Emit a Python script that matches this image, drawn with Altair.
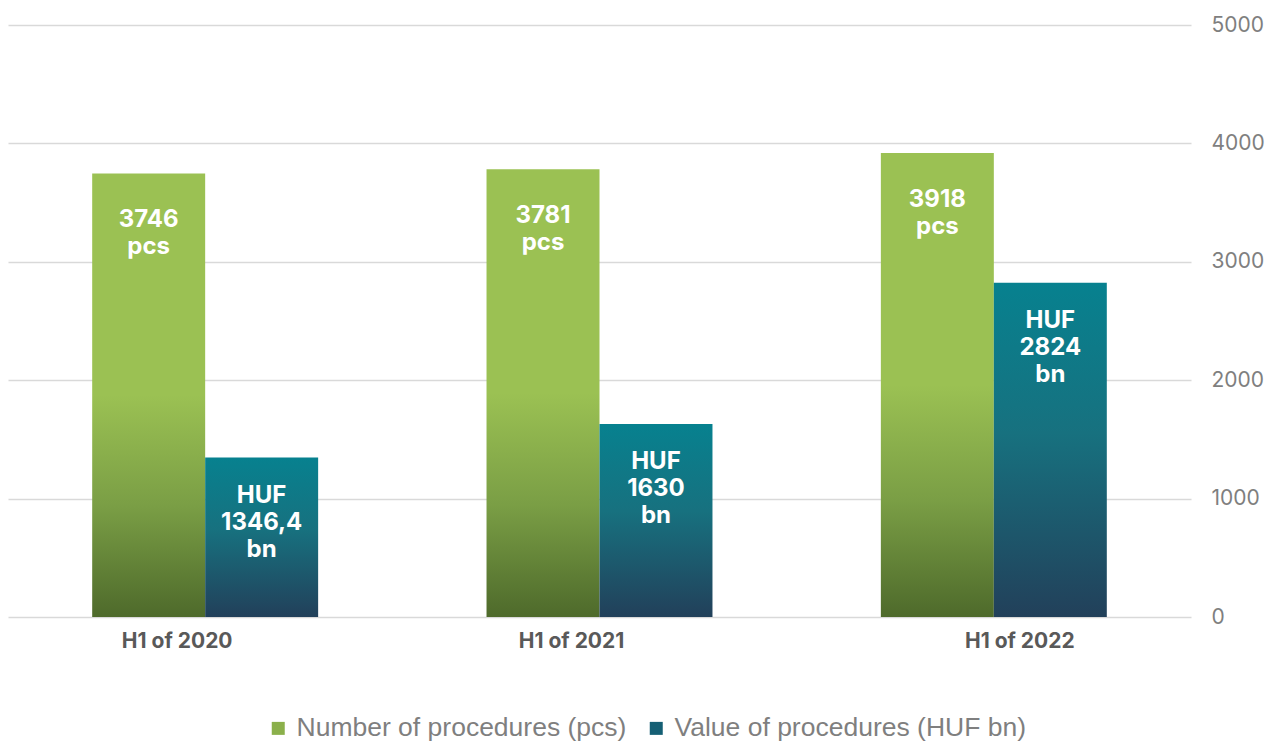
import altair as alt
import pandas as pd

periods = ["H1 of 2020", "H1 of 2021", "H1 of 2022"]
series = ["Number of procedures (pcs)", "Value of procedures (HUF bn)"]
counts = [3746, 3781, 3918]
values = [1346.4, 1630, 2824]
count_labels = ["3746\npcs", "3781\npcs", "3918\npcs"]
value_labels = ["HUF\n1346,4\nbn", "HUF\n1630\nbn", "HUF\n2824\nbn"]
y_ticks = [0, 1000, 2000, 3000, 4000, 5000]

rows = []
for p, c, cl in zip(periods, counts, count_labels):
    rows.append({"period": p, "series": series[0], "v": c, "label": cl})
for p, v, vl in zip(periods, values, value_labels):
    rows.append({"period": p, "series": series[1], "v": v, "label": vl})
df = pd.DataFrame(rows)

green = alt.Gradient(gradient="linear", x1=0, y1=0, x2=0, y2=1, stops=[
    alt.GradientStop(color="#9BC153", offset=0),
    alt.GradientStop(color="#9BC153", offset=0.5),
    alt.GradientStop(color="#7A9E45", offset=0.75),
    alt.GradientStop(color="#4E6A2B", offset=1),
])
teal = alt.Gradient(gradient="linear", x1=0, y1=0, x2=0, y2=1, stops=[
    alt.GradientStop(color="#07818F", offset=0),
    alt.GradientStop(color="#17717F", offset=0.45),
    alt.GradientStop(color="#22405A", offset=1),
])

x_enc = alt.X("period:N", sort=periods, title=None,
              scale=alt.Scale(paddingInner=0.427, paddingOuter=0.2135),
              axis=alt.Axis(domain=False, ticks=False, grid=False, labelAngle=0,
                            labelFont="Inter", labelFontSize=21, labelFontWeight="bold",
                            labelColor="#595959", labelPadding=13,
                            labelOffset=alt.ExprRef("datum.value == 'H1 of 2022' ? 26 : -28")))
y_enc = alt.Y("v:Q", title=None,
              scale=alt.Scale(domain=[0, 5000]),
              axis=alt.Axis(orient="right", values=y_ticks, format="d", domain=False, ticks=False,
                            grid=True, gridColor="#D9D9D9", gridWidth=1.5,
                            labelFont="Inter", labelFontSize=21, labelColor="#7F7F7F",
                            labelAlign="left", labelPadding=20))
xo = alt.XOffset("series:N", scale=alt.Scale(domain=series, paddingInner=0, paddingOuter=0))

base = alt.Chart(df)

bars_green = base.transform_filter(alt.datum.series == series[0]).mark_bar(fill=green).encode(
    x=x_enc, y=y_enc, xOffset=xo)
bars_teal = base.transform_filter(alt.datum.series == series[1]).mark_bar(fill=teal).encode(
    x=x_enc, y=y_enc, xOffset=xo)

text_style = dict(color="white", font="Inter", fontSize=24, fontWeight="bold",
                  baseline="top", align="center", lineBreak="\n", lineHeight=27)
texts_green = base.transform_filter(alt.datum.series == series[0]).mark_text(
    dy=35, **text_style).encode(x=x_enc, y=y_enc, xOffset=xo, text="label:N")
texts_teal = base.transform_filter(alt.datum.series == series[1]).mark_text(
    dy=26, **text_style).encode(x=x_enc, y=y_enc, xOffset=xo, text="label:N")

legend_layer = base.mark_square(opacity=0, size=0).encode(
    x=x_enc, y=y_enc,
    color=alt.Color("series:N", scale=alt.Scale(domain=series, range=["#8BB04B", "#155F74"]),
                    legend=alt.Legend(title=None, orient="none", direction="horizontal",
                                      legendX=257, legendY=690, symbolType="square",
                                      symbolSize=169, symbolOpacity=1, symbolStrokeWidth=0,
                                      labelFont="Liberation Sans", labelFontSize=26.5,
                                      labelColor="#7F7F7F", labelLimit=0, columnPadding=16,
                                      labelOffset=5)))

chart = alt.layer(bars_green, bars_teal, texts_green, texts_teal, legend_layer).properties(
    width=1183, height=592,
    autosize=alt.AutoSizeParams(type="none"),
    padding={"left": 0, "top": 17, "right": 80, "bottom": 126},
).configure_view(stroke=None)

chart.save("out.html", embed_options={"renderer": "svg", "actions": False})
